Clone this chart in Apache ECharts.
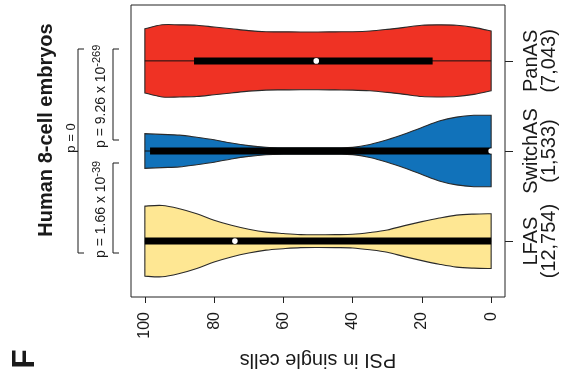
<!DOCTYPE html>
<html><head><meta charset="utf-8">
<script src="https://cdn.jsdelivr.net/npm/echarts@6/dist/echarts.min.js"></script>
<style>html,body{margin:0;padding:0;background:#fff}#c{width:563px;height:384px}</style>
</head><body><div id="c"></div>
<script>
// ---- data ----
const categories = ['LFAS', 'SwitchAS', 'PanAS'];
const counts = ['(12,754)', '(1,533)', '(7,043)'];
const psiGrid = [0,5,10,15,20,25,30,35,40,45,50,55,60,65,70,75,80,85,90,95,100];
// relative density (violin half-width, 1 = widest)
const densLFAS     = [0.76,0.75,0.72,0.64,0.54,0.43,0.31,0.24,0.19,0.18,0.175,0.18,0.21,0.25,0.33,0.44,0.58,0.76,0.90,0.99,0.97];
const densSwitchAS = [0.99,0.99,0.94,0.83,0.65,0.47,0.31,0.18,0.10,0.09,0.09,0.09,0.09,0.105,0.15,0.22,0.31,0.38,0.44,0.46,0.48];
const densPanAS    = [0.83,0.93,0.99,1.0,0.99,0.93,0.875,0.83,0.81,0.805,0.80,0.80,0.805,0.81,0.84,0.89,0.94,0.99,1.0,1.0,0.89];
const q1Values = [0, 0, 16.9];
const q3Values = [100, 98.5, 85.8];
const medianValues = [74, 0, 50.5];
const whiskerLow = [0, 0, 0];
const whiskerHigh = [100, 100, 100];
const xTicks = [0, 20, 40, 60, 80, 100];
const titleText = 'Human 8-cell embryos';
const panelLabel = 'F';
const pText0 = 'p = 0';
const pText1 = 'p = 1.66 x 10';
const pExp1 = '-39';
const pText2 = 'p = 9.26 x 10';
const pExp2 = '-269';
const xName = 'PSI in single cells';

const densities = [densLFAS, densSwitchAS, densPanAS];
const fills = ['#FEE793', '#1172BA', '#EF3224'];
const FONT = '"Liberation Sans", Arial, sans-serif';
const INK = '#1a1a1a';

function smoothPath(pts) {
  let s = '';
  for (let i = 0; i < pts.length - 1; i++) {
    const p0 = pts[Math.max(0, i - 1)], p1 = pts[i], p2 = pts[i + 1], p3 = pts[Math.min(pts.length - 1, i + 2)];
    const c1 = [p1[0] + (p2[0] - p0[0]) / 6, p1[1] + (p2[1] - p0[1]) / 6];
    const c2 = [p2[0] - (p3[0] - p1[0]) / 6, p2[1] - (p3[1] - p1[1]) / 6];
    s += ' C' + c1[0] + ' ' + c1[1] + ' ' + c2[0] + ' ' + c2[1] + ' ' + p2[0] + ' ' + p2[1];
  }
  return s;
}

function renderItem(params, api) {
  const i = params.dataIndex;
  const c = i + 1;
  const d = densities[i];
  const top = psiGrid.map((p, k) => api.coord([p, c + d[k] * 0.4]));
  const bot = psiGrid.map((p, k) => api.coord([p, c - d[k] * 0.4])).reverse();
  const path = 'M' + top[0][0] + ' ' + top[0][1] + smoothPath(top) +
    ' L' + bot[0][0] + ' ' + bot[0][1] + smoothPath(bot) + ' Z';
  const wl = api.coord([whiskerLow[i], c]), wh = api.coord([whiskerHigh[i], c]);
  const b1 = api.coord([q1Values[i], c]), b3 = api.coord([q3Values[i], c]);
  const m = api.coord([medianValues[i], c]);
  return {
    type: 'group',
    children: [
      { type: 'path', shape: { pathData: path }, style: { fill: fills[i], stroke: '#2a2a2a', lineWidth: 1.1 } },
      { type: 'line', shape: { x1: wl[0], y1: wl[1], x2: wh[0], y2: wh[1] }, style: { stroke: '#111', lineWidth: 1 } },
      { type: 'line', shape: { x1: b1[0], y1: b1[1], x2: b3[0], y2: b3[1] }, style: { stroke: '#000', lineWidth: 7 } },
      { type: 'circle', shape: { cx: m[0], cy: m[1], r: 2.8 }, style: { fill: '#fff' } }
    ]
  };
}

function txt(x, y, text, size, weight, align) {
  return { type: 'text', x: x, y: y, rotation: Math.PI / 2,
    style: { text: text, fontSize: size, fontWeight: weight || 'normal', fontFamily: FONT, fill: INK,
      align: align || 'center', textAlign: align || 'center', verticalAlign: 'middle', textVerticalAlign: 'middle' } };
}
function richTxt(x, y, main, exp) {
  return { type: 'text', x: x, y: y, rotation: Math.PI / 2,
    style: { text: '{a|' + main + '}{s|' + exp + '}', fontSize: 14, fontFamily: FONT, fill: INK,
      align: 'left', textAlign: 'left', verticalAlign: 'middle', textVerticalAlign: 'middle',
      rich: { a: { fontSize: 14, lineHeight: 19, fontFamily: FONT, fill: INK },
              s: { fontSize: 11, lineHeight: 11, verticalAlign: 'top', fontFamily: FONT, fill: INK } } } };
}
function bracket(x, y1, y2) {
  return { type: 'polyline', shape: { points: [[x + 6, y1], [x, y1], [x, y2], [x + 6, y2]] },
    style: { stroke: INK, lineWidth: 1, fill: null } };
}

const chart = echarts.init(document.getElementById('c'));
chart.setOption({
  animation: false,
  grid: { left: 131, right: 58, top: 5, bottom: 87, show: true, borderColor: '#222', borderWidth: 1 },
  xAxis: {
    type: 'value', min: -4, max: 104, inverse: true, position: 'bottom',
    axisLine: { show: false, onZero: false }, splitLine: { show: false },
    axisTick: { show: true, length: 6, customValues: xTicks, lineStyle: { color: '#222' } },
    axisLabel: { customValues: xTicks, rotate: 90, fontSize: 16, margin: 15, color: INK, fontFamily: FONT },
    name: xName, nameLocation: 'middle', nameGap: 53, nameRotate: 180,
    nameTextStyle: { fontSize: 20, color: INK, fontFamily: FONT }
  },
  yAxis: {
    type: 'value', min: 0.38, max: 3.62, position: 'right',
    axisLine: { show: false, onZero: false }, splitLine: { show: false },
    axisTick: { show: true, length: 8, customValues: [1, 2, 3], lineStyle: { color: '#222' } },
    axisLabel: { customValues: [1, 2, 3], rotate: 90, fontSize: 20, lineHeight: 18, margin: 17, color: INK, fontFamily: FONT,
      formatter: v => categories[Math.round(v) - 1] + '\n' + counts[Math.round(v) - 1] }
  },
  series: [{ type: 'custom', renderItem: renderItem, data: categories.map((c, i) => i), z: 2 }],
  graphic: [
    txt(25, 359, panelLabel, 32, 'bold'),
    txt(46, 130, titleText, 20, 'bold'),
    txt(71, 138, pText0, 13),
    richTxt(101, 258, pText1, pExp1),
    richTxt(101, 148, pText2, pExp2),
    bracket(78, 49, 253),
    bracket(113, 49, 140),
    bracket(113, 163, 253)
  ]
});
</script></body></html>
